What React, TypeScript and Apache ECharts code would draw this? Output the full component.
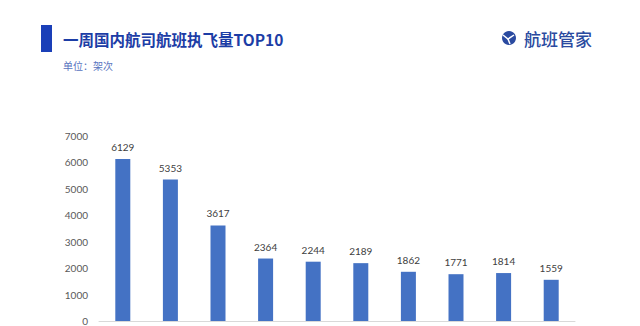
import React, { useEffect, useRef } from "react";
import * as echarts from "echarts";

const categories = ["南方航空", "东方航空", "国际航空", "海南航空", "深圳航空", "厦门航空", "四川航空", "山东航空", "天津航空", "春秋航空"];
const flights = [6129, 5353, 3617, 2364, 2244, 2189, 1862, 1771, 1814, 1559];
const yTicks = { min: 0, max: 7000, interval: 1000 };
const titleText = "一周国内航司航班执飞量TOP10";
const unitText = "单位：架次";
const brandText = "航班管家";

export default function App() {
  const ref = useRef<HTMLDivElement>(null);
  useEffect(() => {
    if (!ref.current) return;
    const chart = echarts.init(ref.current, null, { renderer: "svg" });
    chart.setOption({
      animation: false,
      backgroundColor: "#ffffff",
      grid: { left: 99, right: 65, top: 136, bottom: 1 },
      xAxis: {
        type: "category",
        data: categories,
        axisLine: { show: true, lineStyle: { color: "#d9d9d9", width: 1 } },
        axisTick: { show: false },
        axisLabel: { show: false },
      },
      yAxis: {
        type: "value",
        min: yTicks.min,
        max: yTicks.max,
        interval: yTicks.interval,
        axisLine: { show: false },
        axisTick: { show: false },
        splitLine: { show: false },
        axisLabel: {
          color: "#595959",
          fontSize: 10,
          fontFamily: "Lato",
          margin: 11,
          formatter: (v: number) => String(v),
        },
      },
      series: [
        {
          type: "bar",
          data: flights,
          barWidth: 15,
          itemStyle: { color: "#4472c4" },
          label: {
            show: true,
            position: "top",
            distance: 7,
            color: "#404040",
            fontSize: 10,
            fontFamily: "Lato",
          },
        },
      ],
      graphic: [
        { type: "rect", shape: { x: 41, y: 25, width: 11, height: 27 }, style: { fill: "#1a3fb8" } },
        {
          type: "text",
          x: 63,
          y: 39,
          style: {
            text: titleText,
            fill: "#1c3da6",
            font: "bold 15.5px 'Noto Sans CJK SC'",
            verticalAlign: "middle",
          },
        },
        {
          type: "text",
          x: 63,
          y: 65,
          style: {
            text: unitText,
            fill: "#5a75c0",
            font: "10px 'Noto Sans CJK SC'",
            verticalAlign: "middle",
          },
        },
        { type: "circle", shape: { cx: 509, cy: 38, r: 7 }, style: { fill: "#2a4aa0" } },
        {
          type: "polyline",
          shape: { points: [[503, 35], [508, 39], [514, 35]] },
          style: { stroke: "#ffffff", lineWidth: 1.5, fill: "none" },
        },
        {
          type: "line",
          shape: { x1: 508, y1: 39, x2: 510, y2: 44 },
          style: { stroke: "#ffffff", lineWidth: 1.5 },
        },
        {
          type: "text",
          x: 524,
          y: 38,
          style: {
            text: brandText,
            fill: "#2a4aa0",
            font: "500 17px 'Noto Sans CJK SC'",
            verticalAlign: "middle",
          },
        },
      ],
    });
    return () => chart.dispose();
  }, []);
  return (
    <div
      ref={ref}
      style={{ position: "fixed", left: 0, top: 0, width: 640, height: 326 }}
    />
  );
}
